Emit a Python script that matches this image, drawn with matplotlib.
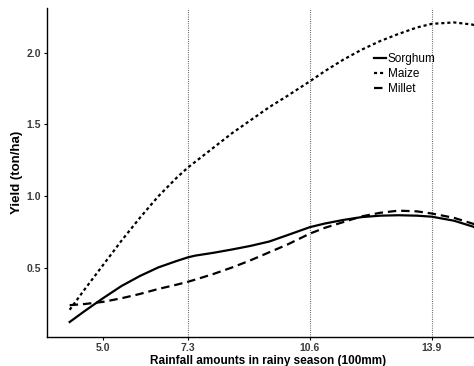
import matplotlib.pyplot as plt
from matplotlib import font_manager

# pick the regular-width Liberation Sans files (avoid the Narrow variant)
reg_file = None
bold_file = None
for f in font_manager.fontManager.ttflist:
    fn = f.fname.lower()
    if 'narrow' in fn:
        continue
    if fn.endswith('liberationsans-regular.ttf'):
        reg_file = f.fname
    elif fn.endswith('liberationsans-bold.ttf'):
        bold_file = f.fname

reg = font_manager.FontProperties(fname=reg_file) if reg_file else font_manager.FontProperties(family='DejaVu Sans')
bold = font_manager.FontProperties(fname=bold_file) if bold_file else font_manager.FontProperties(family='DejaVu Sans', weight='bold')

# rainfall (100mm) and yield (ton/ha)
rain = [4.1, 4.5, 5.0, 5.5, 6.0, 6.5, 7.0, 7.3, 7.5, 8.0, 8.5, 9.0, 9.5, 10.0,
        10.6, 11.0, 11.5, 12.0, 12.5, 13.0, 13.5, 13.9, 14.5, 15.0, 15.3]
sorghum = [0.125, 0.20, 0.29, 0.375, 0.445, 0.505, 0.55, 0.575, 0.587, 0.607, 0.63, 0.655,
           0.685, 0.73, 0.785, 0.81, 0.835, 0.855, 0.865, 0.868, 0.865, 0.858, 0.83, 0.79, 0.76]
maize = [0.21, 0.35, 0.52, 0.69, 0.85, 1.00, 1.13, 1.20, 1.24, 1.34, 1.44, 1.53,
         1.62, 1.70, 1.80, 1.87, 1.95, 2.02, 2.08, 2.13, 2.175, 2.20, 2.21, 2.195, 2.17]
millet = [0.242, 0.25, 0.265, 0.29, 0.32, 0.355, 0.385, 0.405, 0.42, 0.46, 0.505, 0.555,
          0.61, 0.665, 0.74, 0.78, 0.82, 0.86, 0.885, 0.90, 0.895, 0.88, 0.85, 0.81, 0.78]

xticks = [5.0, 7.3, 10.6, 13.9]
yticks = [0.5, 1.0, 1.5, 2.0]
vlines = [7.3, 10.6, 13.9]

fig = plt.figure(figsize=(4.74, 3.66), dpi=100)
# the original panel is cut off on the right, so the axes run past the figure edge
ax = fig.add_axes([0.099, 0.079, 0.932, 0.899])

for v in vlines:
    ax.axvline(v, color='#555555', lw=0.8, ls=(0, (0.8, 1.2)))

ax.plot(rain, sorghum, color='black', lw=1.6, label='Sorghum')
ax.plot(rain, maize, color='black', lw=1.6, ls=(0, (1.4, 1.3)), label='Maize')
ax.plot(rain, millet, color='black', lw=1.6, ls=(0, (3.8, 2.2)), label='Millet')

ax.set_xlim(3.485, 15.44)
ax.set_ylim(0.02, 2.31)
ax.set_xticks(xticks)
ax.set_xticklabels(['%.1f' % t for t in xticks])
ax.set_yticks(yticks)
ax.set_yticklabels(['%.1f' % t for t in yticks])
ax.tick_params(labelcolor='#3a3a3a', length=2.5, width=0.8, pad=2)
for lab in ax.get_xticklabels() + ax.get_yticklabels():
    lab.set_fontproperties(bold)
    lab.set_fontsize(7.5)

ax.spines['top'].set_visible(False)
ax.spines['right'].set_visible(False)
for s in ['left', 'bottom']:
    ax.spines[s].set_linewidth(1.0)

ax.set_xlabel('Rainfall amounts in rainy season (100mm)', fontproperties=bold, fontsize=8.5, labelpad=1)
ax.set_ylabel('Yield (ton/ha)', fontproperties=bold, fontsize=9.5, labelpad=2)

leg_font = reg.copy()
leg_font.set_size(8.5)
ax.legend(loc='upper left', bbox_to_anchor=(0.727, 0.88), frameon=False, prop=leg_font,
          handlelength=1.0, handletextpad=0.15, labelspacing=0.25, borderpad=0)

fig.savefig('out.png', dpi=100)
